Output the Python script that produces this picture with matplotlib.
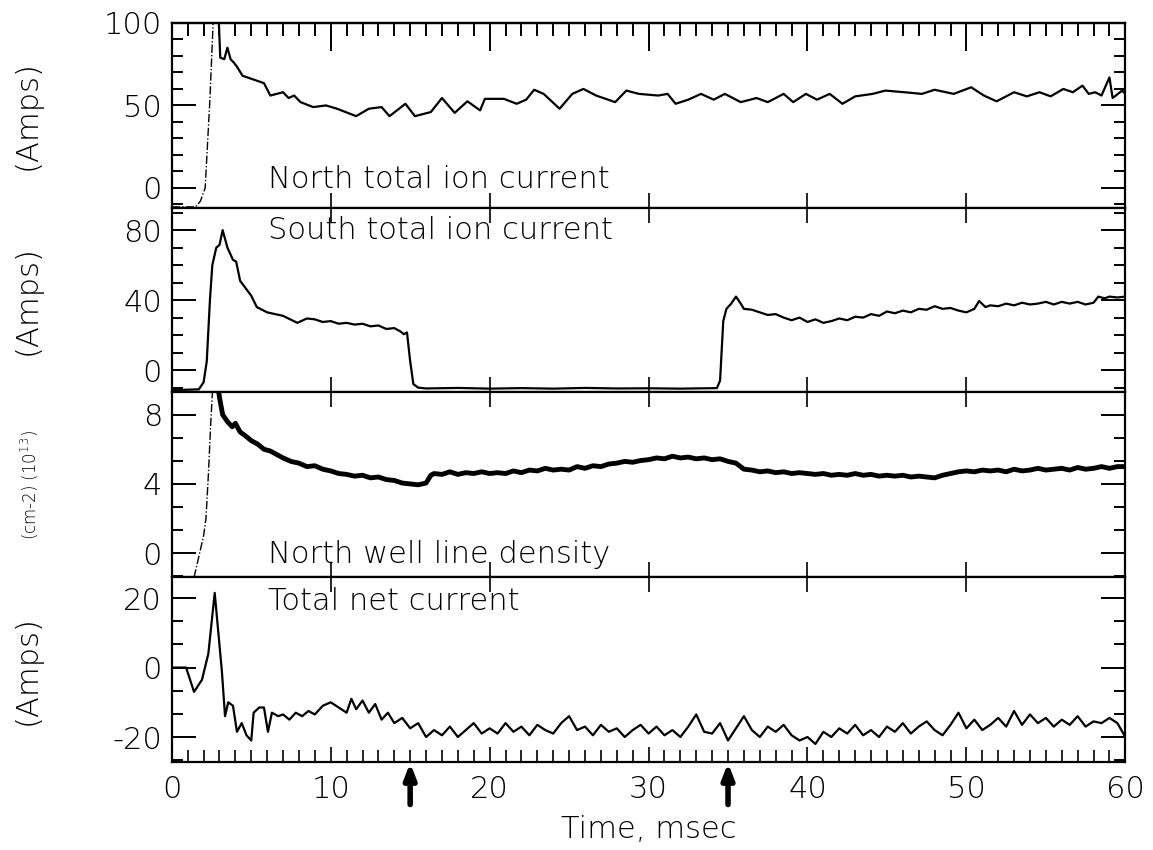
"""Four stacked traces of one discharge: ion currents, line density and net current."""

import matplotlib

matplotlib.use("Agg")
import matplotlib.pyplot as plt
from matplotlib.ticker import MultipleLocator, FixedLocator

plt.rcParams["font.family"] = ["DejaVu Sans"]
plt.rcParams["font.weight"] = "light"
plt.rcParams["axes.labelweight"] = "light"
plt.rcParams["axes.unicode_minus"] = False

# --- North total ion current (Amps) ---
north_rise_t = [0.0, 1.5, 1.8, 2.1, 2.4, 2.6, 2.75]
north_rise_v = [-11.5, -11.5, -8, 0, 54, 100, 115]
north_t = [2.9, 3.05, 3.3, 3.5, 3.7, 3.9, 4.1, 4.45, 5.2, 5.8, 6.2, 7.0, 7.35,
           7.7, 8.1, 8.9, 9.7, 10.4, 11.6, 12.4, 13.2, 13.7, 14.7, 15.3, 16.3,
           17.0, 17.8, 18.6, 19.4, 19.7, 20.9, 21.7, 22.3, 22.8, 23.4, 24.4,
           25.2, 25.9, 26.7, 27.9, 28.6, 29.4, 30.6, 31.2, 31.7, 32.5, 33.3,
           34.1, 34.8, 35.8, 36.8, 37.5, 38.5, 39.1, 39.9, 40.6, 41.4, 42.2,
           43.0, 44.1, 44.9, 46.1, 47.2, 48.0, 49.2, 50.3, 51.1, 51.9, 53.0,
           53.8, 54.6, 55.3, 56.1, 56.7, 57.3, 57.7, 58.1, 58.5, 59.0, 59.2,
           59.8, 60.0]
north_v = [115, 79, 78, 85, 78, 76, 73.5, 68, 65.5, 63.5, 56, 58, 54.5,
           56, 52, 49, 50, 48, 43.5, 48, 49, 43.5, 51, 43.5, 46,
           54.5, 45.5, 52.5, 47, 54, 54, 51, 53.5, 59.5, 57, 48,
           57, 60, 56, 52, 59, 57, 56, 57, 51, 53.5, 57,
           53.5, 57, 52, 54.5, 52, 57, 52, 57, 53.5, 57, 51,
           55.5, 57, 59, 58, 57, 59.5, 57, 61, 56, 52.5, 58,
           55.5, 58, 55.5, 60, 58, 62, 57, 58, 56, 67, 54.5,
           59, 57]

# --- South total ion current (Amps) ---
south_t = [0.0, 1.7, 2.0, 2.2, 2.4, 2.55, 2.8, 3.0, 3.2, 3.5, 3.85, 4.05,
           4.3, 5.0, 5.35, 6.0, 7.0, 7.9, 8.5, 9.0, 9.5, 10.0, 10.5, 11.0,
           11.5, 12.0, 12.5, 13.0, 13.5, 14.0, 14.4, 14.6, 14.8, 15.0, 15.2,
           15.5, 16, 18, 20, 22, 24, 26, 28, 30, 32, 34.3, 34.5, 34.7, 34.9,
           35.2, 35.5, 35.8, 36.0, 36.5, 37.0, 37.5, 38.0, 38.5, 39.0, 39.5,
           40.0, 40.5, 41.0, 41.5, 42.0, 42.5, 43.0, 43.5, 44.0, 44.5, 45.0,
           45.5, 46.0, 46.5, 47.0, 47.5, 48.0, 48.5, 49.0, 49.5, 50.0, 50.5,
           50.8, 51.2, 51.5, 52.0, 52.5, 53.0, 53.5, 54.0, 54.5, 55.0, 55.5,
           56.0, 56.5, 57.0, 57.5, 58.0, 58.3, 58.7, 59.0, 59.5, 60.0]
south_v = [-11.5, -11, -7, 5, 40, 60, 70, 71.5, 80, 70, 63, 62,
           51, 42.5, 36, 33, 31, 27, 29.5, 29, 27.5, 28, 26.5, 27,
           26, 26.5, 25, 25.5, 23.5, 24, 22, 20.5, 21.5, 5, -8,
           -10, -10.5, -10.2, -10.6, -10.3, -10.6, -10.2, -10.5, -10.4, -10.6,
           -10.3, -6, 28, 35, 38, 42, 38, 35, 34.5, 33, 31.5, 32, 30, 28.5,
           30, 27.5, 29, 27, 28, 29.5, 28.5, 30.5, 30, 32, 31, 33.5,
           32.5, 34, 33, 35, 34.5, 36.5, 35, 35.5, 34, 33, 35,
           39.5, 36, 37, 36.5, 38, 37, 38.5, 37.5, 38, 39, 37.5,
           39, 38, 39, 37.5, 38.5, 42, 41, 42, 41.5, 42]

# --- North well line density (cm^-2, 1e13) ---
dens_rise_t = [1.4, 1.75, 2.0, 2.15, 2.3, 2.45, 2.6]
dens_rise_v = [-1.4, 0.0, 1.0, 2.0, 4.5, 7.5, 10.0]
dens_t = [2.85, 3.0, 3.2, 3.5, 3.8, 4.0, 4.3, 4.6, 5.0, 5.4, 5.8, 6.2, 6.6,
          7.0, 7.5, 8.0, 8.5, 9.0, 9.5, 10.0, 10.5, 11.0, 11.5, 12.0, 12.5,
          13.0, 13.5, 14.0, 14.5, 15.0, 15.5, 16.0, 16.3, 16.5, 17.0, 17.5,
          18.0, 18.5, 19.0, 19.5, 20.0, 20.5, 21.0, 21.5, 22.0, 22.5, 23.0,
          23.5, 24.0, 24.5, 25.0, 25.5, 26.0, 26.5, 27.0, 27.5, 28.0, 28.5,
          29.0, 29.5, 30.0, 30.5, 31.0, 31.5, 32.0, 32.5, 33.0, 33.5, 34.0,
          34.5, 35.0, 35.5, 36.0, 36.5, 37.0, 37.5, 38.0, 38.5, 39.0, 39.5,
          40.0, 40.5, 41.0, 41.5, 42.0, 42.5, 43.0, 43.5, 44.0, 44.5, 45.0,
          45.5, 46.0, 46.5, 47.0, 47.5, 48.0, 48.5, 49.0, 49.5, 50.0, 50.5,
          51.0, 51.5, 52.0, 52.5, 53.0, 53.5, 54.0, 54.5, 55.0, 55.5, 56.0,
          56.5, 57.0, 57.5, 58.0, 58.5, 59.0, 59.5, 60.0]
dens_v = [10.0, 9.0, 8.0, 7.6, 7.3, 7.5, 7.0, 6.8, 6.5, 6.3, 6.0, 5.9, 5.7,
          5.5, 5.3, 5.2, 5.0, 5.05, 4.85, 4.75, 4.6, 4.55, 4.45, 4.5, 4.35,
          4.4, 4.25, 4.2, 4.05, 4.0, 3.95, 4.05, 4.5, 4.6, 4.55, 4.7,
          4.55, 4.65, 4.6, 4.7, 4.6, 4.65, 4.6, 4.75, 4.65, 4.8, 4.75,
          4.9, 4.8, 4.85, 4.8, 5.0, 4.9, 5.05, 5.0, 5.15, 5.2, 5.3,
          5.25, 5.35, 5.4, 5.5, 5.45, 5.6, 5.5, 5.55, 5.45, 5.5, 5.4,
          5.45, 5.3, 5.2, 4.85, 4.8, 4.7, 4.75, 4.65, 4.7, 4.6, 4.65,
          4.6, 4.55, 4.6, 4.5, 4.55, 4.5, 4.6, 4.5, 4.55, 4.45, 4.5,
          4.45, 4.5, 4.4, 4.45, 4.4, 4.35, 4.5, 4.6, 4.7, 4.75, 4.7,
          4.8, 4.75, 4.8, 4.7, 4.85, 4.75, 4.8, 4.9, 4.8, 4.85, 4.9,
          4.8, 4.95, 4.85, 4.9, 5.0, 4.9, 5.0, 5.0]

# --- Total net current (Amps) ---
net_t = [0.0, 0.9, 1.4, 1.9, 2.3, 2.7, 3.15, 3.35, 3.55, 3.85, 4.1, 4.4,
         4.7, 5.0, 5.15, 5.5, 5.8, 6.05, 6.3, 6.7, 7.0, 7.4, 7.8, 8.2, 8.6,
         9.0, 9.5, 10.0, 10.5, 11.0, 11.3, 11.6, 12.0, 12.4, 12.8, 13.2,
         13.6, 14.0, 14.5, 15.0, 15.5, 16.0, 16.5, 17.0, 17.5, 18.0, 18.5,
         19.0, 19.5, 20.0, 20.5, 21.0, 21.5, 22.0, 22.5, 23.0, 23.5, 24.0,
         24.5, 25.0, 25.5, 26.0, 26.5, 27.0, 27.5, 28.0, 28.5, 29.0, 29.5,
         30.0, 30.5, 31.0, 31.5, 32.0, 32.5, 33.0, 33.5, 34.0, 34.5, 35.0,
         35.5, 36.0, 36.5, 37.0, 37.5, 38.0, 38.5, 39.0, 39.5, 40.0, 40.5,
         41.0, 41.5, 42.0, 42.5, 43.0, 43.5, 44.0, 44.5, 45.0, 45.5, 46.0,
         46.5, 47.0, 47.5, 48.0, 48.5, 49.0, 49.5, 50.0, 50.5, 51.0, 51.5,
         52.0, 52.5, 53.0, 53.5, 54.0, 54.5, 55.0, 55.5, 56.0, 56.5, 57.0,
         57.5, 58.0, 58.5, 59.0, 59.5, 60.0]
net_v = [0, 0, -7, -3.5, 4, 21.5, -1, -14, -10, -11, -18.5, -16,
         -19.5, -21, -13, -11.5, -11.5, -18.5, -13, -14, -13.5, -15, -13, -14, -12.5,
         -13.5, -11, -10, -11.5, -13, -9, -12, -9.5, -13, -10.5, -15,
         -13, -16, -14.5, -17.5, -16, -20, -18, -19.5, -17, -20, -18,
         -16, -19, -17.5, -19, -16, -18.5, -17, -19.5, -16.5, -18, -19,
         -16, -14, -18, -17, -19.5, -16.5, -18.5, -17.5, -20, -18, -16.5,
         -19, -17, -19.5, -18, -20, -17, -13.5, -18.5, -19, -16, -21,
         -17.5, -14, -18, -20, -17, -18.5, -16.5, -19.5, -21, -20, -22,
         -18.5, -20, -17.5, -19, -16.5, -19.5, -18, -20, -17, -18.5, -16,
         -19, -17, -15.5, -18, -19.5, -16.5, -13, -17.5, -15, -18, -16.5,
         -14.5, -17, -12.5, -16.5, -13.5, -16, -14.5, -17, -15, -16.5, -14,
         -17, -15.5, -16, -14.5, -16, -20]

panel_labels = ["North total ion current", "South total ion current",
                "North well line density", "Total net current"]
y_units = ["(Amps)", "(Amps)", "(cm-2) (10$^{13}$)", "(Amps)"]
y_limits = [(-12, 100), (-12.8, 92.8), (-1.39, 9.28), (-27.2, 26)]
y_major = [[0, 50, 100], [0, 40, 80], [0, 4, 8], [-20, 0, 20]]
y_minor = [10, 10, 4 / 3, 20 / 3]
marker_times = [15, 35]

FS = 22
fig = plt.figure(figsize=(11.53, 8.5), dpi=100)
gs = fig.add_gridspec(4, 1, left=0.149, right=0.976, top=0.973,
                      bottom=0.1035, hspace=0)
axes = []
for i in range(4):
    ax = fig.add_subplot(gs[i], sharex=axes[0] if axes else None)
    axes.append(ax)

ax1, ax2, ax3, ax4 = axes
ax1.plot(north_rise_t, north_rise_v, color="k", lw=1.0, ls=(0, (6, 1.5, 1, 1.5)))
ax1.plot(north_t, north_v, color="k", lw=1.6)
ax2.plot(south_t, south_v, color="k", lw=1.6)
ax3.plot(dens_rise_t, dens_rise_v, color="k", lw=1.0, ls=(0, (6, 1.5, 1, 1.5)))
ax3.plot(dens_t, dens_v, color="k", lw=3.5)
ax4.plot(net_t, net_v, color="k", lw=1.6)

text_pos = [(0.107, "baseline"), (0.956, "top"), (0.076, "baseline"), (0.946, "top")]
# y-label anchor is the right edge of the rotated text
label_x = [-0.136, -0.136, -0.137, -0.136]
for i, ax in enumerate(axes):
    ax.set_xlim(0, 60)
    ax.set_ylim(*y_limits[i])
    ax.yaxis.set_major_locator(FixedLocator(y_major[i]))
    ax.yaxis.set_minor_locator(MultipleLocator(y_minor[i]))
    ax.xaxis.set_major_locator(MultipleLocator(10))
    for sp in ax.spines.values():
        sp.set_linewidth(1.6)
    ax.tick_params(axis="y", which="both", direction="in", left=True,
                   right=True, width=1.4, labelsize=FS, pad=7)
    ax.tick_params(axis="y", which="major", length=17)
    ax.tick_params(axis="y", which="minor", length=8)
    ax.tick_params(axis="x", which="major", direction="in", top=True,
                   bottom=True, length=11, width=1.2, labelbottom=False)
    ax.tick_params(axis="x", which="minor", top=False, bottom=False)
    yf, va = text_pos[i]
    ax.text(6.05, yf, panel_labels[i], transform=ax.get_xaxis_transform(),
            fontsize=FS, va=va, ha="left")
    ax.set_ylabel(y_units[i], fontsize=FS if i != 2 else 12)
    ax.yaxis.set_label_coords(label_x[i], 0.5)

# outer top axis gets long major ticks and minors
ax1.tick_params(axis="x", which="major", top=False)
top = ax1.secondary_xaxis("top")
top.xaxis.set_major_locator(MultipleLocator(10))
top.xaxis.set_minor_locator(MultipleLocator(1))
top.tick_params(axis="x", which="both", direction="in", width=1.4,
                labeltop=False)
top.tick_params(axis="x", which="major", length=20)
top.tick_params(axis="x", which="minor", length=9)
top.spines["top"].set_linewidth(1.6)

ax4.xaxis.set_minor_locator(MultipleLocator(1))
ax4.tick_params(axis="x", which="minor", bottom=True, top=False,
                direction="in", length=9, width=1.2)
ax4.tick_params(axis="x", which="major", labelbottom=True, labelsize=FS,
                pad=9)
ax4.set_xlabel("Time, msec", fontsize=FS, labelpad=8)

for t in marker_times:
    ax4.annotate("", xy=(t, -0.005), xytext=(t, -0.23),
                 xycoords=("data", "axes fraction"),
                 textcoords=("data", "axes fraction"),
                 arrowprops=dict(arrowstyle="-|>,head_width=0.35,head_length=0.9",
                                 lw=4, color="k", shrinkA=0, shrinkB=0),
                 annotation_clip=False)

fig.savefig("out.png", dpi=100, facecolor="white")
